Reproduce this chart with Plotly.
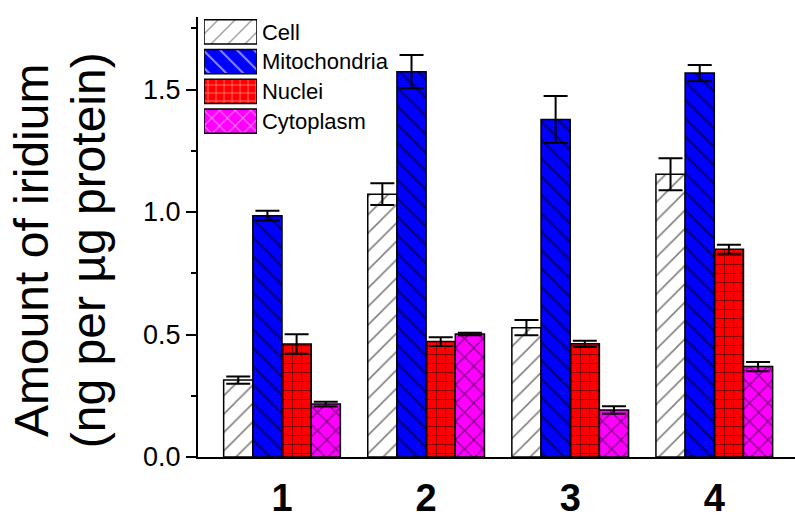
import plotly.graph_objects as go

groups = ["1", "2", "3", "4"]
series = ["Cell", "Mitochondria", "Nuclei", "Cytoplasm"]
cell = [0.314, 1.073, 0.528, 1.154]
cell_err = [0.015, 0.044, 0.031, 0.065]
mito = [0.985, 1.573, 1.378, 1.567]
mito_err = [0.020, 0.068, 0.096, 0.033]
nuclei = [0.461, 0.471, 0.462, 0.848]
nuclei_err = [0.040, 0.018, 0.013, 0.018]
cyto = [0.216, 0.502, 0.192, 0.369]
cyto_err = [0.010, 0.005, 0.015, 0.019]

values = [cell, mito, nuclei, cyto]
errors = [cell_err, mito_err, nuclei_err, cyto_err]
colors = ["#ffffff", "#0000ff", "#ff0000", "#ff00ff"]
shapes = ["/", "\\", "+", "x"]
psizes = [13, 13, 9, 13]
psolid = [0.12, 0.18, 0.2, 0.18]

FONT = "Liberation Sans, Arial, sans-serif"

fig = go.Figure()
for name, v, e, c, s, ps, so in zip(series, values, errors, colors, shapes, psizes, psolid):
    fig.add_trace(go.Bar(
        x=groups, y=v, name=name, showlegend=False,
        marker=dict(color=c, line=dict(color="black", width=1.5),
                    pattern=dict(shape=s, fgcolor="black", bgcolor=c, size=ps, solidity=so)),
        error_y=dict(type="data", array=e, visible=True, color="black", thickness=2, width=12),
    ))

# legend drawn as swatches in a small inset (one full-length swatch per series)
fig.add_trace(go.Bar(
    y=series, x=[1] * len(series), orientation="h", xaxis="x2", yaxis="y2",
    showlegend=False, hoverinfo="skip",
    marker=dict(color=colors, line=dict(color="black", width=1.5),
                pattern=dict(shape=shapes, fgcolor="black", bgcolor=colors,
                             size=[12, 12, 8, 11], solidity=psolid)),
))

fig.update_layout(
    width=795, height=518,
    margin=dict(l=198, r=0, t=17, b=61),
    barmode="group", bargap=0.19, bargroupgap=0,
    plot_bgcolor="white", paper_bgcolor="white",
    font=dict(family=FONT, color="black"),
    showlegend=False,
    xaxis=dict(type="category", range=[-0.583, 3.56], showline=True, linecolor="black", linewidth=2,
               ticks="", showgrid=False, zeroline=False, automargin=False,
               tickfont=dict(size=38, family=FONT, weight="bold"), ticklabelstandoff=6),
    yaxis=dict(range=[0, 1.796], showline=True, linecolor="black", linewidth=2,
               ticks="outside", ticklen=10, tickwidth=2, tickcolor="black",
               tickvals=[0, 0.5, 1.0, 1.5], ticktext=["0.0", "0.5", "1.0", "1.5"],
               minor=dict(ticks="outside", ticklen=5, tickwidth=2, tickcolor="black",
                          tickvals=[0.25, 0.75, 1.25, 1.75], showgrid=False),
               showgrid=False, zeroline=False, automargin=False,
               tickfont=dict(size=27, family=FONT)),
    xaxis2=dict(domain=[0.0101, 0.0988], range=[0, 1], anchor="y2", visible=False, fixedrange=True),
    yaxis2=dict(domain=[0.7295, 1.0], anchor="x2", autorange="reversed", side="right",
                showline=False, showgrid=False, zeroline=False, ticks="", automargin=False,
                ticklabelstandoff=4, tickfont=dict(size=22, family=FONT), fixedrange=True),
)

for txt, xp in [("Amount of iridium", -0.28), ("(ng per µg protein)", -0.1843)]:
    fig.add_annotation(
        text=txt, xref="paper", yref="paper", x=xp, y=0.47,
        xanchor="center", yanchor="middle", textangle=-90, showarrow=False,
        font=dict(size=48, family=FONT, color="black"),
    )

fig.write_html("out.html")
